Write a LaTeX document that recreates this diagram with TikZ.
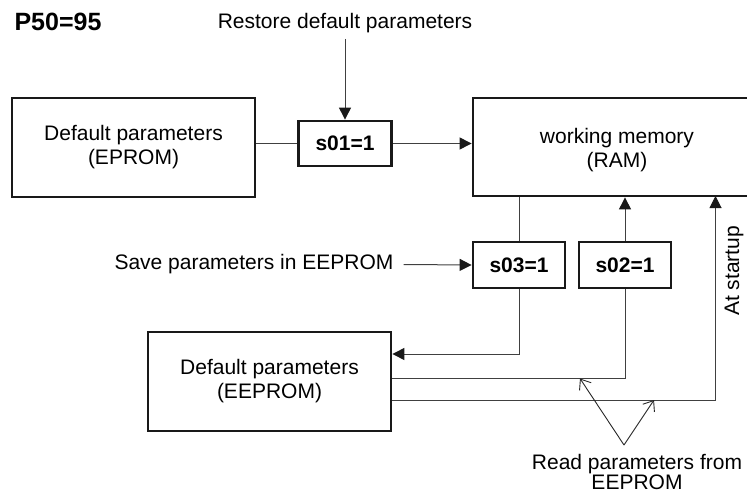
\documentclass[tikz,border=0pt]{standalone}
\usepackage{fontspec}
\setmainfont{Liberation Sans}
\usetikzlibrary{arrows.meta}
\begin{document}
\begin{tikzpicture}[x=1pt,y=-1pt,
  txt/.style={font=\fontsize{21}{24}\selectfont, align=center, inner sep=0pt},
  bigbox/.style={draw=black!90, line width=2.8pt, inner sep=0pt, align=center, font=\fontsize{21}{24}\selectfont},
  swbox/.style={draw=black!90, line width=2.8pt, minimum width=92pt, minimum height=46pt, inner sep=0pt, font=\fontsize{21}{24}\selectfont\bfseries},
  conn/.style={line width=1pt, draw=black!75},
  arr/.style={conn, -{Triangle[length=12pt,width=12pt,color=black!90]}},
  ptr/.style={line width=0.9pt, draw=black!85, -{Straight Barb[length=9pt,width=14pt]}}
]
\clip (0,0) rectangle (747,495);
% title
\node[font=\fontsize{25}{25}\selectfont\bfseries, inner sep=0pt] (p50) at (58,22) {P50=95};
% boxes
\node[bigbox, minimum width=243pt, minimum height=99pt] (eprom) at (133.5,147.5) {Default parameters\\(EPROM)};
\node[swbox, minimum width=93pt, minimum height=45pt] (s01) at (345,143.5) {s01=1};
\node[bigbox, minimum width=289pt, minimum height=98pt] (ram) at (617.5,147) {};
\node[txt] (ramt) at (617,150) {working memory\\(RAM)};
\node[swbox] (s03) at (519,265) {s03=1};
\node[swbox] (s02) at (625,265) {s02=1};
\node[bigbox, minimum width=243pt, minimum height=99pt] (eeprom) at (269.5,381.5) {Default parameters\\(EEPROM)};
% labels
\node[txt] (restore) at (345,23) {Restore default parameters};
\node[txt] (save) at (254,264.5) {Save parameters in EEPROM};
\node[txt, rotate=90] (atst) at (734,271) {At startup};
\node[font=\fontsize{21}{18}\selectfont, align=center, inner sep=0pt] (read) at (637,472) {Read parameters from\\EEPROM};
% connectors
\draw[conn] (s01.west) -- (s01.west -| eprom.east);
\draw[arr] (s01.east) -- (s01.east -| ram.west);
\draw[arr] ([yshift=-6pt]restore.south) -- (s01.north);
\draw[conn] (ram.south -| s03.north) -- (s03.north);
\draw[arr] (s02.north) -- (s02.north |- ram.south);
\draw[arr] ([xshift=10pt]save.east) -- (s03.west);
\draw[arr] (s03.south) |- ([yshift=27.5pt]eeprom.east);
\draw[conn] ([yshift=3.5pt]eeprom.east) -| (s02.south);
\coordinate (startup) at (715.5,196);
\draw[arr] ([yshift=-18.5pt]eeprom.east) -| (startup);
% pointers
\coordinate (rp) at (624,445);
\coordinate (rp1) at (580,378.5);
\coordinate (rp2) at (654,400);
\draw[ptr] (rp) -- (rp1);
\draw[ptr] (rp) -- (rp2);
\end{tikzpicture}
\end{document}
